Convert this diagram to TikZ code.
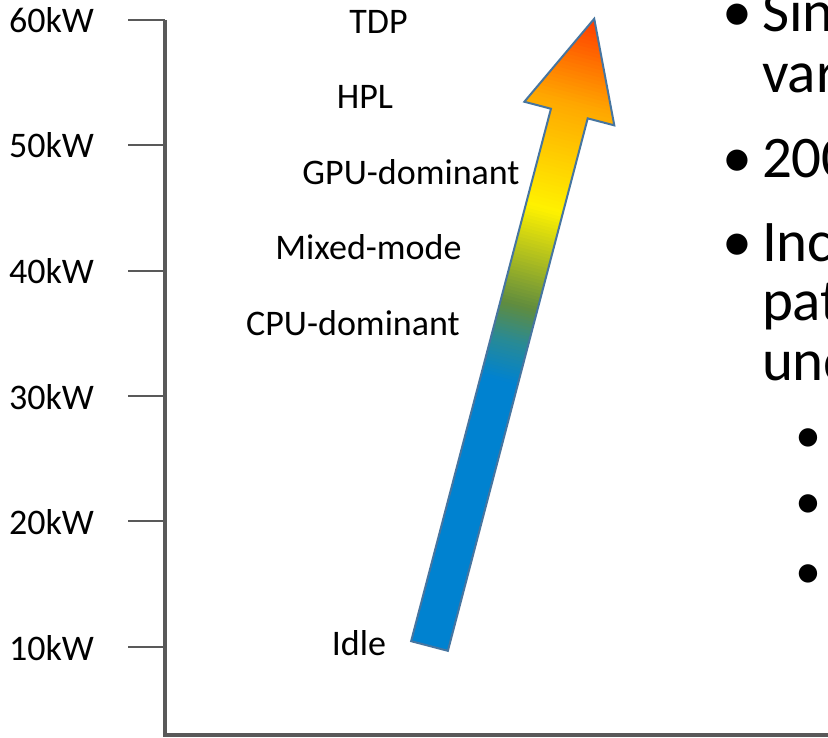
\documentclass[tikz,border=0pt]{standalone}
\usepackage{fontspec}
\setmainfont{Carlito}

\definecolor{axisgray}{RGB}{89,89,89}
\definecolor{arEdge}{RGB}{70,117,160}
\definecolor{arBlue}{RGB}{0,130,208}
\definecolor{arTeal}{RGB}{40,138,150}
\definecolor{arGreen}{RGB}{96,140,62}
\definecolor{arYellow}{RGB}{255,242,0}
\definecolor{arOrange}{RGB}{255,168,0}
\definecolor{arRed}{RGB}{255,55,0}

\tikzset{
  axisline/.style={draw=axisgray, line width=3.2pt},
  tickline/.style={draw=axisgray, line width=2.8pt},
  ylbl/.style={font=\fontsize{36}{43}\selectfont, anchor=base east},
  lvl/.style={font=\fontsize{36}{43}\selectfont, anchor=base},
  bigtxt/.style={font=\fontsize{59}{70}\selectfont, anchor=base west},
  bigdot/.style={font=\fontsize{60}{70}\selectfont, anchor=base},
  subdot/.style={font=\fontsize{52}{60}\selectfont, anchor=base},
  arrowedge/.style={draw=arEdge, line width=2pt, line join=miter}
}

\begin{document}
\begin{tikzpicture}[x=1pt, y=-1pt, every node/.style={inner sep=0pt, outer sep=0pt}]
\useasboundingbox (0,0) rectangle (828,738);
\clip (0,0) rectangle (828,738);

% power axis with ticks and labels
\coordinate (ytop) at (165,20);
\coordinate (origin) at (165,735);
\coordinate (xend) at (832,735);
\draw[axisline] (ytop) -- (origin) -- (xend);
\foreach \v/\y in {60/20,50/145,40/271,30/396,20/521,10/647}{
  \coordinate (t\v) at (128,\y);
  \draw[tickline] (t\v) -- (t\v -| origin);
  \node[ylbl] (l\v) at (94,\y+13) {\v kW};
}

% workload levels
\node[lvl] (tdp)   at (378.5,34)  {TDP};
\node[lvl] (hpl)   at (365,109)   {HPL};
\node[lvl] (gpu)   at (411,185)   {GPU-dominant};
\node[lvl] (mixed) at (368.5,260) {Mixed-mode};
\node[lvl] (cpu)   at (353,335)   {CPU-dominant};
\node[lvl] (idle)  at (359,655)   {Idle};

% rising arrow, drawn in its own frame: x across the shaft, y along it
\begin{scope}[shift={(429.5pt,-646pt)}, x={(0.9672pt,-0.254pt)}, y={(0.254pt,0.9672pt)}]
  \begin{scope}
    \clip (-19,0) -- (-19,550.5) -- (-46.5,550.5) -- (0,648.5)
          -- (46.5,550.5) -- (19,550.5) -- (19,0) -- cycle;
    \foreach \sa/\sb/\ca/\cb/\n in {-3/275/arBlue/arBlue/1,
        275/315/arBlue/arTeal/12, 315/352/arTeal/arGreen/12,
        352/452/arGreen/arYellow/30, 452/560/arYellow/arOrange/30,
        560/652/arOrange/arRed/25}{
      \foreach \k in {1,...,\n}{
        \pgfmathsetmacro\lo{\sa+(\sb-\sa)*(\k-1)/\n}
        \pgfmathsetmacro\hi{\sa+(\sb-\sa)*\k/\n+0.7}
        \pgfmathsetmacro\p{100*(\k-0.5)/\n}
        \fill[fill=\cb!\p!\ca] (-60,\lo) -- (60,\lo) -- (60,\hi) -- (-60,\hi) -- cycle;
      }
    }
  \end{scope}
  \draw[arrowedge] (-19,0) -- (-19,550.5) -- (-46.5,550.5) -- (0,648.5)
        -- (46.5,550.5) -- (19,550.5) -- (19,0) -- cycle;
\end{scope}

% bullet text at the right edge
\node[bigdot] (b1) at (737,32)  {•};
\node[bigtxt] (s1) at (762,32)  {Sin};
\node[bigtxt] (s2) at (762,93)  {var};
\node[bigdot] (b2) at (737,178) {•};
\node[bigtxt] (s3) at (762,178) {200};
\node[bigdot] (b3) at (737,262) {•};
\node[bigtxt] (s4) at (762,262) {Inc};
\node[bigtxt] (s5) at (762,321) {pat};
\node[bigtxt] (s6) at (762,381) {und};
\node[subdot] (c1) at (808,452) {•};
\node[subdot] (c2) at (808,518) {•};
\node[subdot] (c3) at (808,588) {•};
\end{tikzpicture}
\end{document}
